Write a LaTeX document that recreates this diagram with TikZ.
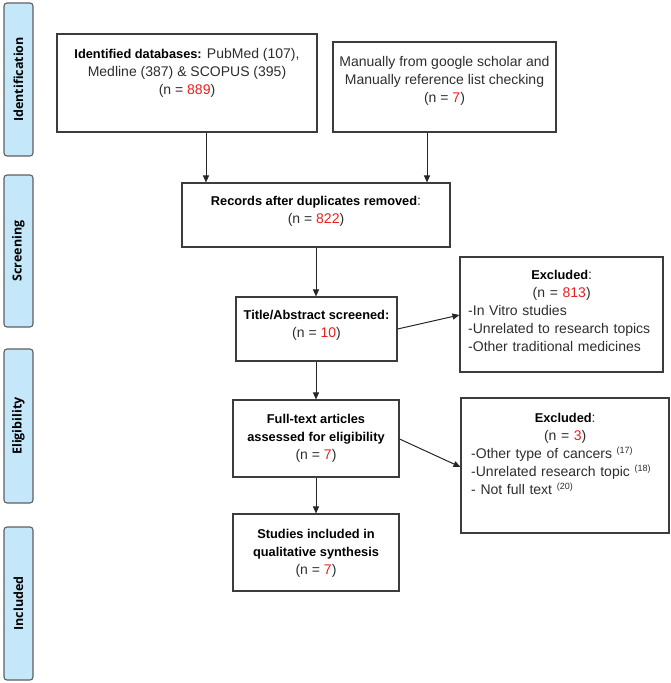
\documentclass[tikz,border=0pt]{standalone}
\usepackage{fontspec}
\setmainfont{Liberation Sans}
\newfontfamily\sidefont{Open Sans}
\usetikzlibrary{arrows.meta}
\definecolor{sidefill}{RGB}{196,232,250}
\definecolor{sidedraw}{RGB}{95,95,95}
\definecolor{boxdraw}{RGB}{60,60,60}
\definecolor{txt}{RGB}{45,45,45}
\definecolor{numred}{RGB}{235,30,30}
\newcommand{\nr}[1]{\textcolor{numred}{#1}}
\newcommand{\bt}[1]{{\fontsize{12.8}{18}\selectfont\bfseries\color{black}#1}}
\tikzset{
  x=1pt, y=-1pt,
  sidebox/.style={draw=sidedraw, fill=sidefill, rounded corners=3pt, line width=1.1pt},
  sidetext/.style={rotate=90, font=\sidefont\fontsize{12.5}{14}\selectfont\bfseries, text=black, inner sep=0pt},
  flowbox/.style={draw=boxdraw, line width=1.1pt, inner sep=0pt},
  flowtext/.style={align=center, inner sep=0pt, font=\fontsize{14}{18}\selectfont, text=txt, anchor=north},
  listtext/.style={align=left, inner sep=0pt, font=\fontsize{14}{18}\selectfont, text=txt, anchor=north west},
  arr/.style={draw=black!85, line width=1pt, -{Triangle[length=7pt,width=6pt]}},
}
\begin{document}
\begin{tikzpicture}
\useasboundingbox (0,0) rectangle (671,683);
% side bars
\path[sidebox] (4,3) rectangle (33,156) coordinate[pos=0.5] (idc);
\node[sidetext] (idt) at (idc) {Identification};
\path[sidebox] (4,175) rectangle (33,327) coordinate[pos=0.5] (scc);
\node[sidetext] (sct) at (scc) {Screening};
\path[sidebox] (4,349) rectangle (33,503) coordinate[pos=0.5] (elc);
\node[sidetext] (elt) at (elc) {Eligibility};
\path[sidebox] (4,527) rectangle (33,680) coordinate[pos=0.5] (inc);
\node[sidetext] (int) at (inc) {Included};

% boxes
\node[flowbox, minimum width=260, minimum height=98] (db) at (187,83) {};
\node[flowtext] (dbt) at (187,48) {\bt{Identified databases:} PubMed (107),\\Medline (387) \& SCOPUS (395)\\(n = \nr{889})};

\node[flowbox, minimum width=223, minimum height=90] (man) at (444.5,87) {};
\node[flowtext] (mant) at (444.5,56) {Manually from google scholar and\\Manually reference list checking\\(n = \nr{7})};

\node[flowbox, minimum width=268, minimum height=64] (rec) at (316,215) {};
\node[flowtext] (rect) at (316,196) {\bt{Records after duplicates removed}:\\(n = \nr{822})};

\node[flowbox, minimum width=161, minimum height=64] (ta) at (316.5,329) {};
\node[flowtext] (tat) at (316.5,310) {\bt{Title/Abstract screened:}\\(n = \nr{10})};

\node[flowbox, minimum width=203, minimum height=115] (ex1) at (561.5,314.5) {};
\node[listtext, text width=187] (ex1t) at (468,270) {{\centering\bt{Excluded}:\\(n = \nr{813})\par}-In Vitro studies\\-Unrelated to research topics\\-Other traditional medicines};

\node[flowbox, minimum width=166, minimum height=77] (ft) at (316,438.5) {};
\node[flowtext] (ftt) at (316,414) {\bt{Full-text articles}\\\bt{assessed for eligibility}\\(n = \nr{7})};

\node[flowbox, minimum width=208, minimum height=135] (ex2) at (565,465.5) {};
\node[listtext, text width=188] (ex2t) at (471,413) {{\centering\bt{Excluded}:\\(n = \nr{3})\par}-Other type of cancers \textsuperscript{\fontsize{9}{9}\selectfont(17)}\\-Unrelated research topic \textsuperscript{\fontsize{9}{9}\selectfont(18)}\\- Not full text \textsuperscript{\fontsize{9}{9}\selectfont(20)}};

\node[flowbox, minimum width=166, minimum height=77] (st) at (316,552.5) {};
\node[flowtext] (stt) at (316,529) {\bt{Studies included in}\\\bt{qualitative synthesis}\\(n = \nr{7})};

% connectors
\draw[arr] (db.south -| 206,0) -- (rec.north -| 206,0);
\draw[arr] (man.south -| 427,0) -- (rec.north -| 427,0);
\draw[arr] (rec.south -| 316,0) -- (ta.north -| 316,0);
\draw[arr] (ta.south -| 316,0) -- (ft.north -| 316,0);
\draw[arr] (ft.south -| 316,0) -- (st.north -| 316,0);
\draw[arr] (ta.east |- 0,329) -- (ex1.west |- 0,315);
\draw[arr] (ft.east |- 0,439) -- (ex2.west |- 0,467);
\end{tikzpicture}
\end{document}
